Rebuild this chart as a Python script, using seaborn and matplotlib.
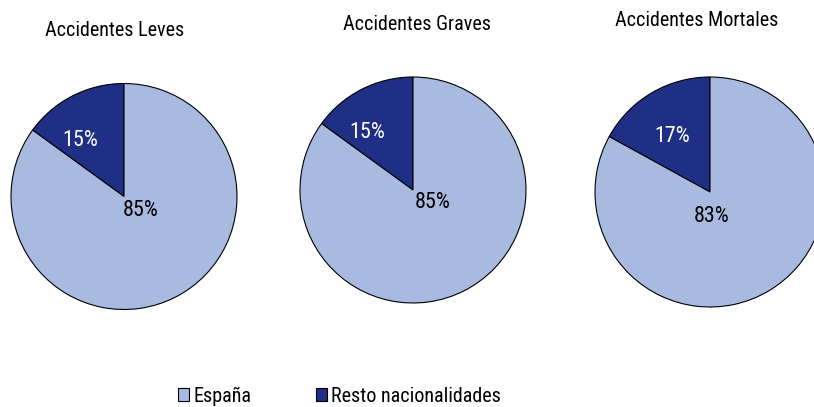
import matplotlib
matplotlib.use("Agg")
import matplotlib.pyplot as plt
import seaborn as sns
from matplotlib.patches import Patch
from matplotlib import font_manager

sns.set_theme(style="white")

available = {f.name for f in font_manager.fontManager.ttflist}
narrow = None
for cand in ["Liberation Sans Narrow", "Roboto Condensed", "Open Sans Condensed",
             "Noto Sans Condensed", "Arial Narrow", "DejaVu Sans Condensed"]:
    if cand in available:
        narrow = cand
        break
if narrow is None:
    narrow = "Liberation Sans"
    fs = 12.5
else:
    fs = 14.5
plt.rcParams['font.family'] = [narrow, 'DejaVu Sans']
plt.rcParams['text.color'] = 'black'

titles = ["Accidentes Leves", "Accidentes Graves", "Accidentes Mortales"]
categories = ["Resto nacionalidades", "España"]
resto = [15, 15, 17]
espana = [85, 85, 83]

colors = {"España": "#A9BAE0", "Resto nacionalidades": "#1F2F86"}

# layout (pixels)
centers = [(124, 196.5), (413, 190), (710, 192)]
radii = [113, 113, 115]
title_pos = [(115, 30), (417, 25), (697, 20)]
lab_small = [(-44, -56), (-46, -57), (-38, -55)]
lab_big = [(17, 14), (20, 13), (2, 24)]

fig = plt.figure(figsize=(8.14, 4.07), dpi=100)
ax = fig.add_axes([0, 0, 1, 1])

for i in range(3):
    cx, cy = centers[i]
    r = radii[i]
    vals = [resto[i], espana[i]]
    # y axis is inverted (pixel layout), so start at -90 and go clockwise in data
    wedges, texts, autotexts = ax.pie(
        vals, colors=[colors[c] for c in categories], startangle=-90,
        counterclock=False, center=(cx, cy), radius=r, frame=True,
        autopct="%1.0f%%", pctdistance=0.5,
        wedgeprops=dict(edgecolor="black", linewidth=0.8),
        textprops=dict(fontsize=fs * 1.1))
    autotexts[0].set_position((cx + lab_small[i][0], cy + lab_small[i][1]))
    autotexts[0].set_color("white")
    autotexts[1].set_position((cx + lab_big[i][0], cy + lab_big[i][1]))
    autotexts[1].set_color("black")
    ax.text(title_pos[i][0], title_pos[i][1], titles[i], ha="center", va="center",
            fontsize=fs, color="black")

ax.set_xlim(0, 814)
ax.set_ylim(407, 0)
ax.set_aspect("equal")
ax.axis("off")

handles = [Patch(facecolor=colors["España"], edgecolor="black", linewidth=0.8, label="España"),
           Patch(facecolor=colors["Resto nacionalidades"], edgecolor="black", linewidth=0.8,
                 label="Resto nacionalidades")]
fig.legend(handles=handles, loc="center left", bbox_to_anchor=(178 / 814, 1 - 396 / 407),
           ncol=2, frameon=False, fontsize=fs, handlelength=0.55, handleheight=0.55,
           handletextpad=0.2, columnspacing=3.2, borderpad=0, borderaxespad=0)

fig.savefig("out.png", dpi=100)
